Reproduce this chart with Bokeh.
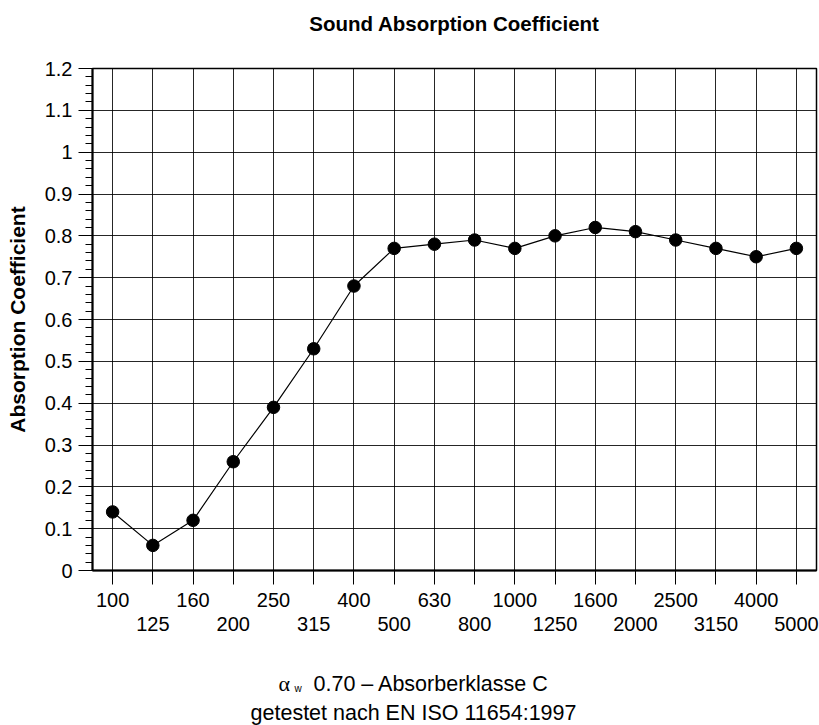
from bokeh.plotting import figure
from bokeh.models import FixedTicker, LinearAxis, Range1d
from bokeh.layouts import column
from bokeh.core.properties import value
from bokeh.embed import file_html
from bokeh.resources import INLINE

# ---- data ----
freq_labels = ["100", "125", "160", "200", "250", "315", "400", "500", "630",
               "800", "1000", "1250", "1600", "2000", "2500", "3150", "4000", "5000"]
alpha = [0.14, 0.06, 0.12, 0.26, 0.39, 0.53, 0.68, 0.77, 0.78,
         0.79, 0.77, 0.80, 0.82, 0.81, 0.79, 0.77, 0.75, 0.77]
y_ticks = [0.0, 0.1, 0.2, 0.3, 0.4, 0.5, 0.6, 0.7, 0.8, 0.9, 1.0, 1.1, 1.2]
y_tick_labels = ["0", "0.1", "0.2", "0.3", "0.4", "0.5", "0.6", "0.7", "0.8",
                 "0.9", "1", "1.1", "1.2"]
title_text = "Sound Absorption Coefficient"
y_label_text = "Absorption Coefficient"
footer_alpha = "\u03b1"
footer_sub = "w"
footer_rating = "0.70 \u2013 Absorberklasse C"
footer_std = "getestet nach EN ISO 11654:1997"

FONT = "Liberation Sans"
xs = list(range(len(freq_labels)))

# ---- layout (page pixels) ----
PAGE_W = 819
HEAD_H = 44
MAIN_H = 640 - HEAD_H
FOOT_H = 725 - 640
FR_L, FR_R, FR_T, FR_B = 92, 816, 68, 570
TEXT_SHIFT = -8   # measured offset of text glyph baselines in the strips


def text_strip(height, y_top):
    """A figure without axes whose data units equal page pixels."""
    s = figure(width=PAGE_W, height=height, x_range=Range1d(FR_L, FR_R),
               y_range=Range1d(y_top + height, y_top),
               output_backend="svg", toolbar_location=None, x_axis_location=None,
               y_axis_location=None, min_border=0)
    s.grid.visible = False
    s.outline_line_color = None
    s.background_fill_color = "white"
    s.border_fill_color = "white"
    return s


# ---- header with the title ----
h = text_strip(HEAD_H, 0)
h.text(x=[454], y=[31 + TEXT_SHIFT], text=[title_text], text_align="center",
       text_baseline="alphabetic", text_font=value(FONT), text_font_size=value("20.5px"),
       text_font_style="bold", text_color="black")

# ---- main chart ----
p = figure(width=PAGE_W, height=MAIN_H, x_range=Range1d(-0.5, 17.5), y_range=Range1d(0, 1.2),
           output_backend="svg", toolbar_location=None,
           min_border_left=FR_L, min_border_right=PAGE_W - FR_R,
           min_border_top=FR_T - HEAD_H, min_border_bottom=HEAD_H + MAIN_H - FR_B)
p.background_fill_color = "white"
p.border_fill_color = "white"
p.outline_line_color = "black"
p.outline_line_width = 1.5

# grids
p.xgrid.ticker = FixedTicker(ticks=xs)
p.ygrid.ticker = FixedTicker(ticks=y_ticks)
for g in (p.xgrid, p.ygrid):
    g.grid_line_color = "black"
    g.grid_line_width = 1
    g.grid_line_alpha = 0.85

# x axis with two label rows
ax1 = p.xaxis[0]
ax1.ticker = FixedTicker(ticks=xs)
ax1.major_label_overrides = {i: (freq_labels[i] if i % 2 == 0 else "") for i in xs}
ax1.major_tick_out = 14
ax1.major_tick_in = 0
ax1.minor_tick_line_color = None
ax1.axis_line_width = 2
ax1.major_label_standoff = 8
ax1.major_label_text_font = FONT
ax1.major_label_text_font_size = "20px"
ax1.major_label_text_color = "black"

ax2 = LinearAxis(ticker=FixedTicker(ticks=[i for i in xs if i % 2 == 1]))
ax2.major_label_overrides = {i: freq_labels[i] for i in xs if i % 2 == 1}
ax2.axis_line_color = None
ax2.major_tick_line_color = None
ax2.minor_tick_line_color = None
ax2.major_tick_out = 0
ax2.major_tick_in = 0
ax2.major_label_standoff = 7
ax2.major_label_text_font = FONT
ax2.major_label_text_font_size = "20px"
ax2.major_label_text_color = "black"
p.add_layout(ax2, "below")

# y axis
ay = p.yaxis[0]
minor = [round(i * 0.02, 2) for i in range(61) if i % 5 != 0]
ay.ticker = FixedTicker(ticks=y_ticks, minor_ticks=minor)
ay.major_label_overrides = dict(zip(y_ticks, y_tick_labels))
ay.major_tick_out = 14
ay.major_tick_in = 0
ay.minor_tick_out = 7
ay.minor_tick_in = 0
ay.axis_line_width = 2
ay.major_label_standoff = 6
ay.major_label_text_font = FONT
ay.major_label_text_font_size = "20px"
ay.major_label_text_color = "black"
ay.axis_label = y_label_text
ay.axis_label_text_font = FONT
ay.axis_label_text_font_size = "21px"
ay.axis_label_text_font_style = "bold"
ay.axis_label_text_color = "black"
ay.axis_label_standoff = 13

# data
p.line(xs, alpha, line_color="black", line_width=1.2)
p.scatter(xs, alpha, marker="circle", size=12.5, fill_color="black", line_color="black")

# ---- footer ----
f = text_strip(FOOT_H, 640)
f.text(x=[278], y=[691 + TEXT_SHIFT], text=[footer_alpha], text_align="left",
       text_baseline="alphabetic", text_font=value("Liberation Serif"),
       text_font_size=value("22px"), text_color="black")
f.text(x=[294], y=[696 + TEXT_SHIFT], text=[footer_sub], text_align="left",
       text_baseline="alphabetic", text_font=value(FONT), text_font_size=value("10px"),
       text_color="black")
f.text(x=[313], y=[691 + TEXT_SHIFT], text=[footer_rating], text_align="left",
       text_baseline="alphabetic", text_font=value(FONT), text_font_size=value("21.5px"),
       text_color="black")
f.text(x=[413], y=[720 + TEXT_SHIFT], text=[footer_std], text_align="center",
       text_baseline="alphabetic", text_font=value(FONT), text_font_size=value("21.5px"),
       text_color="black")

layout = column(h, p, f, spacing=0)
open("out.html", "w").write(file_html(layout, INLINE))
